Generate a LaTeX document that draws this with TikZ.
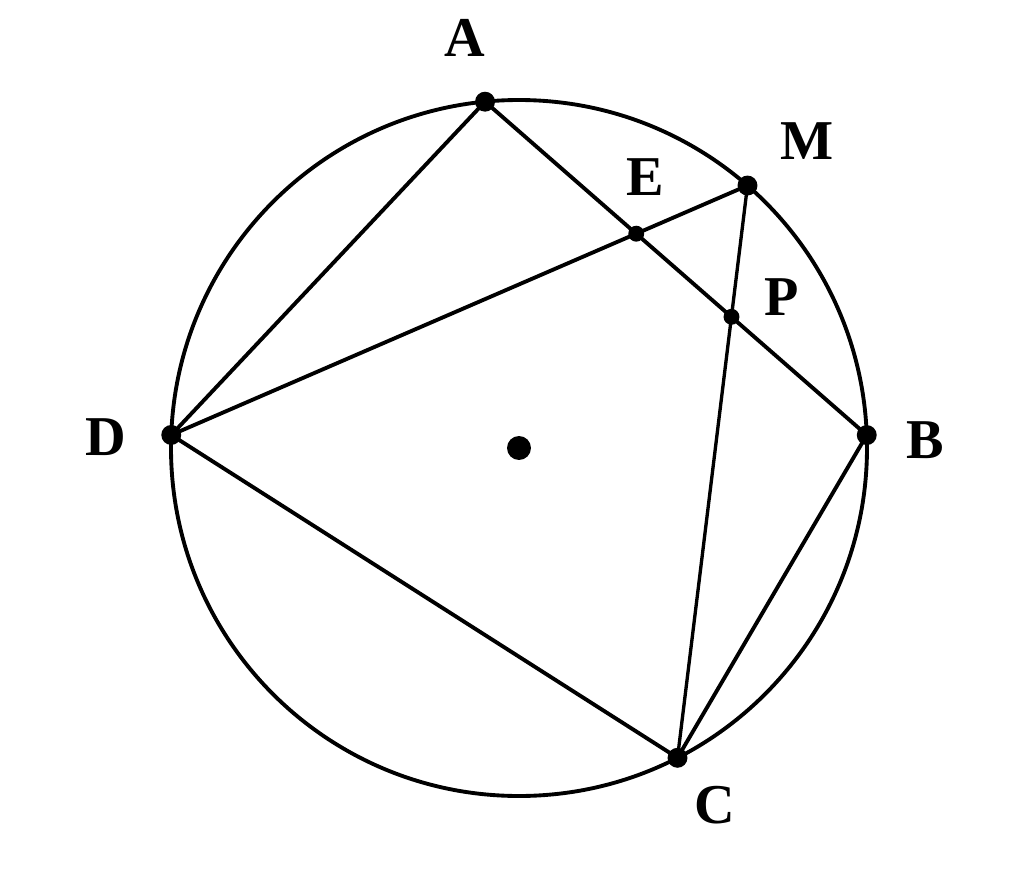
\documentclass[tikz,border=0pt]{standalone}
\usepackage{fontspec}
\setmainfont{Liberation Serif}
\begin{document}
\begin{tikzpicture}[line width=1.1pt]
\useasboundingbox (0,0) rectangle (10.24,8.85);
\tikzset{lbl/.style={font=\fontsize{16}{18}\selectfont\bfseries}}
\coordinate (O) at (5.19,4.37);
\coordinate (A) at ([shift={(O)}]95.6:3.48);
\coordinate (M) at ([shift={(O)}]48.96:3.48);
\coordinate (B) at ([shift={(O)}]2.13:3.48);
\coordinate (D) at ([shift={(O)}]177.85:3.48);
\coordinate (C) at ([shift={(O)}]-62.9:3.48);
\coordinate (E) at (intersection of A--B and D--M);
\coordinate (P) at (intersection of A--B and M--C);
\draw (O) circle (3.48);
\draw (A)--(B)--(C)--(D)--(A);
\draw (D)--(M);
\draw[line width=.95pt] (M)--(C);
\filldraw[black] (A) circle (.08);
\filldraw[black] (M) circle (.08);
\filldraw[black] (B) circle (.08);
\filldraw[black] (D) circle (.08);
\filldraw[black] (C) circle (.08);
\filldraw[black] (E) circle (.06);
\filldraw[black] (P) circle (.06);
\filldraw[black] (O) circle (.1);
\node[lbl] (lA) at (4.65,8.47) {A};
\node[lbl] (lM) at (8.07,7.44) {M};
\node[lbl] (lE) at (6.45,7.08) {E};
\node[lbl] (lP) at (7.82,5.88) {P};
\node[lbl] (lB) at (9.25,4.45) {B};
\node[lbl] (lD) at (1.06,4.48) {D};
\node[lbl] (lC) at (7.15,0.80) {C};
\end{tikzpicture}
\end{document}
